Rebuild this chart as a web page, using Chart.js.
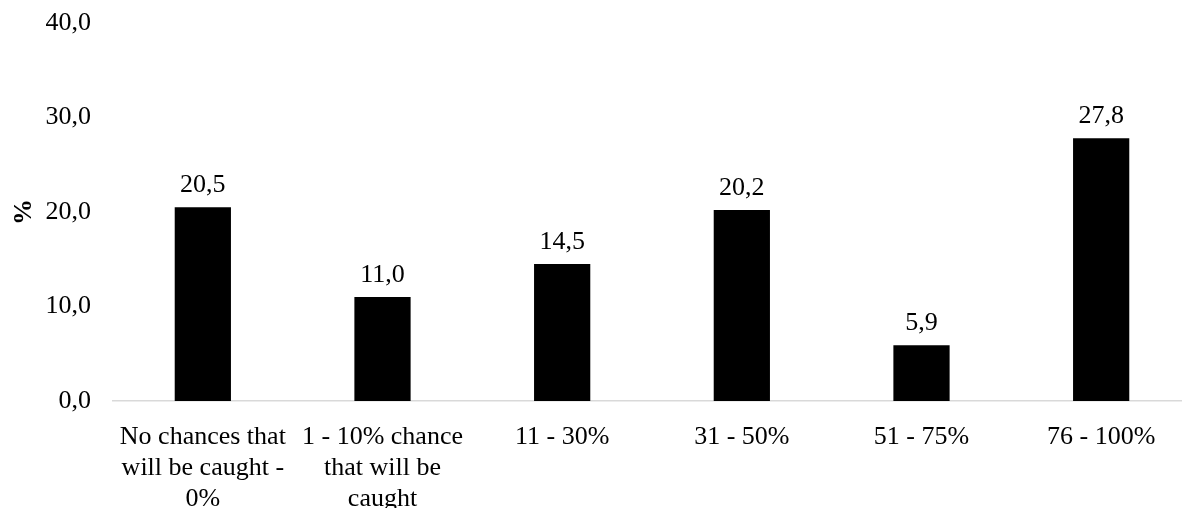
<!DOCTYPE html>
<html>
<head>
<meta charset="utf-8">
<script src="https://cdn.jsdelivr.net/npm/chart.js@4/dist/chart.umd.min.js"></script>
<style>
  html, body { margin: 0; padding: 0; background: #ffffff; }
  #wrap { width: 1182px; height: 508px; position: relative; }
</style>
</head>
<body>
<div id="wrap"><canvas id="chart"></canvas></div>
<script>
// Perceived probability of being caught
const categories = [
  ['No chances that', 'will be caught -', '0%'],
  ['1 - 10% chance', 'that will be', 'caught'],
  '11 - 30%',
  '31 - 50%',
  '51 - 75%',
  '76 - 100%'
];
const shares = [20.5, 11.0, 14.5, 20.2, 5.9, 27.8];
const yTicks = [0, 10, 20, 30, 40];
const yTitle = '%';

const serif = '"Liberation Serif", "Times New Roman", serif';
const fmt = v => v.toFixed(1).replace('.', ',');

// Value labels above each bar
const barValues = {
  id: 'barValues',
  afterDatasetsDraw(chart) {
    const ctx = chart.ctx;
    const meta = chart.getDatasetMeta(0);
    ctx.save();
    ctx.font = '26px ' + serif;
    ctx.fillStyle = '#000000';
    ctx.textAlign = 'center';
    ctx.textBaseline = 'alphabetic';
    meta.data.forEach((bar, i) => {
      ctx.fillText(fmt(shares[i]), bar.x, bar.y - 15);
    });
    ctx.restore();
  }
};

// The category axis runs a little past the right edge of the canvas
const extendCategoryAxis = {
  id: 'extendCategoryAxis',
  afterLayout(chart) {
    const x = chart.scales.x;
    x.right += 9;
    x.width += 9;
    x.configure();
  }
};

new Chart(document.getElementById('chart'), {
  type: 'bar',
  data: {
    labels: categories,
    datasets: [{
      data: shares,
      backgroundColor: '#000000',
      borderWidth: 0,
      barPercentage: 0.313,
      categoryPercentage: 1
    }]
  },
  options: {
    responsive: true,
    maintainAspectRatio: false,
    animation: false,
    layout: { padding: { top: 23, right: 0, bottom: 0, left: 0 } },
    plugins: {
      legend: { display: false },
      tooltip: { enabled: false }
    },
    scales: {
      x: {
        afterFit(scale) { scale.height = 107; },
        grid: { display: false, drawTicks: false },
        border: { display: true, color: '#d9d9d9', width: 1.5 },
        ticks: {
          color: '#000000',
          font: { family: serif, size: 26, lineHeight: 1.18 },
          padding: 21,
          maxRotation: 0,
          autoSkip: false
        }
      },
      y: {
        min: yTicks[0],
        max: yTicks[yTicks.length - 1],
        afterFit(scale) {
          scale.width = 113;
          scale.paddingTop = 0;
          scale.paddingBottom = 0;
        },
        afterBuildTicks(scale) { scale.ticks = yTicks.map(v => ({ value: v })); },
        grid: { display: false, drawTicks: false },
        border: { display: false },
        ticks: {
          color: '#000000',
          font: { family: serif, size: 26 },
          padding: 22,
          callback: v => fmt(v)
        },
        title: {
          display: true,
          text: yTitle,
          color: '#000000',
          font: { family: serif, size: 26, weight: 'bold' },
          padding: { top: 9, bottom: 0 }
        }
      }
    }
  },
  plugins: [barValues, extendCategoryAxis]
});
</script>
</body>
</html>
